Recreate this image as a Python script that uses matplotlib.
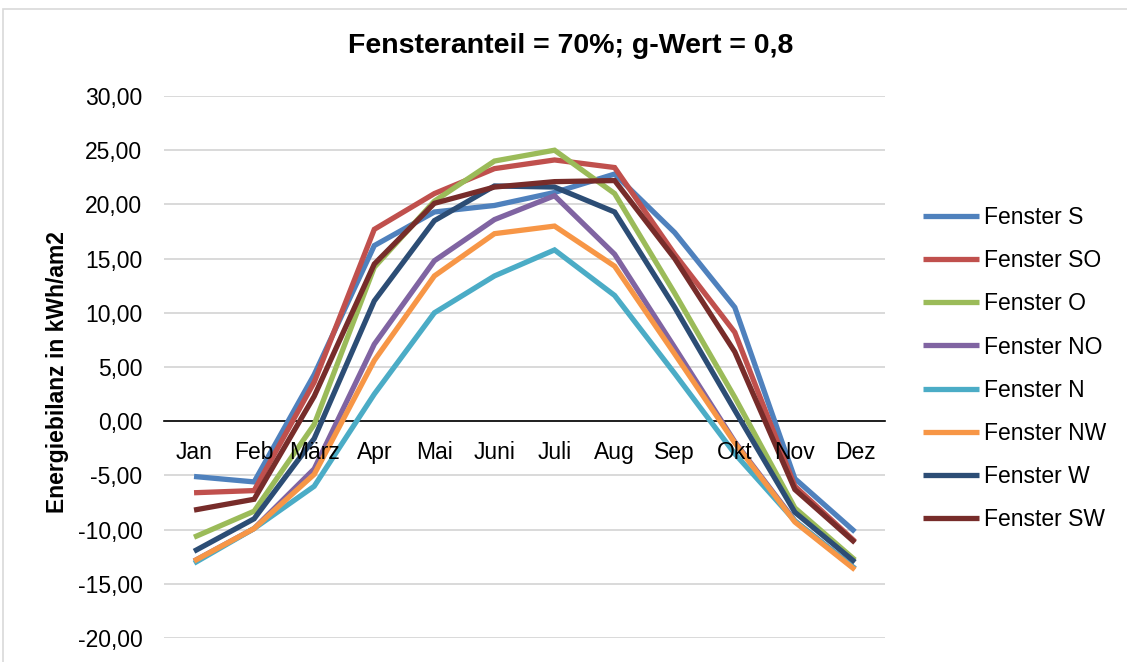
import matplotlib.pyplot as plt
from matplotlib.patches import Rectangle

# ====== Daten ======
MONATE = ["Jan", "Feb", "März", "Apr", "Mai", "Juni", "Juli", "Aug", "Sep", "Okt", "Nov", "Dez"]

fenster_s = [-5.1, -5.6, 4.3, 16.2, 19.3, 19.9, 21.1, 22.8, 17.4, 10.5, -5.3, -10.2]
fenster_so = [-6.6, -6.4, 3.6, 17.7, 21.0, 23.3, 24.1, 23.4, 15.4, 8.2, -6.0, -11.1]
fenster_o = [-10.7, -8.3, -0.3, 14.2, 20.3, 24.0, 25.0, 21.0, 11.8, 2.2, -8.0, -12.8]
fenster_no = [-12.9, -9.9, -4.4, 7.1, 14.8, 18.6, 20.8, 15.4, 6.8, -1.9, -9.2, -13.6]
fenster_n = [-13.1, -9.9, -6.0, 2.5, 10.0, 13.4, 15.8, 11.6, 4.4, -3.0, -9.2, -13.6]
fenster_nw = [-12.9, -9.9, -4.9, 5.6, 13.4, 17.3, 18.0, 14.3, 6.2, -2.0, -9.3, -13.7]
fenster_w = [-12.0, -9.0, -1.6, 11.1, 18.5, 21.7, 21.6, 19.3, 10.5, 1.0, -8.4, -13.0]
fenster_sw = [-8.2, -7.2, 2.3, 14.5, 20.1, 21.6, 22.1, 22.2, 15.0, 6.4, -6.3, -11.2]

SERIEN = [
    ("Fenster S", fenster_s, "#4F81BD"),
    ("Fenster SO", fenster_so, "#C0504D"),
    ("Fenster O", fenster_o, "#9BBB59"),
    ("Fenster NO", fenster_no, "#8064A2"),
    ("Fenster N", fenster_n, "#4BACC6"),
    ("Fenster NW", fenster_nw, "#F79646"),
    ("Fenster W", fenster_w, "#2C4D75"),
    ("Fenster SW", fenster_sw, "#772C2A"),
]

Y_TICKS = [-20, -15, -10, -5, 0, 5, 10, 15, 20, 25, 30]
# ===================

W, H = 1127, 662
plt.rcParams["font.family"] = ["Liberation Sans", "DejaVu Sans"]

fig = plt.figure(figsize=(W / 100, H / 100), dpi=100)
fig.patches.append(Rectangle((3 / W, -0.1), 1.2, 1 - 9 / H + 0.1, transform=fig.transFigure,
                             fill=False, edgecolor="#D9D9D9", linewidth=1.2))

ax = fig.add_axes([164 / W, 1 - 638 / H, (885 - 164) / W, (638 - 96) / H])

x = list(range(len(MONATE)))
for name, werte, farbe in SERIEN:
    ax.plot(x, werte, color=farbe, linewidth=3.8, label=name, solid_joinstyle="miter",
            solid_capstyle="butt", zorder=3)

ax.set_xlim(-0.5, len(MONATE) - 0.5)
ax.set_ylim(-20, 30)
ax.set_yticks(Y_TICKS)
ax.set_yticklabels([f"{v:.2f}".replace(".", ",") for v in Y_TICKS], fontsize=16.5)
ax.yaxis.grid(True, color="#D9D9D9", linewidth=1.4)
ax.set_axisbelow(True)

for s in ["top", "right", "left"]:
    ax.spines[s].set_visible(False)
ax.spines["bottom"].set_position(("data", 0))
ax.spines["bottom"].set_color("black")
ax.spines["bottom"].set_linewidth(1.2)
ax.spines["bottom"].set_zorder(2)

ax.set_xticks(x)
ax.set_xticklabels(MONATE, fontsize=16.5)
ax.tick_params(axis="x", length=0, pad=14)
ax.tick_params(axis="y", length=0, pad=15.5)
# Monatsnamen über den Linien
ax.xaxis.set_zorder(4)

fig.text(571 / W, 1 - 46 / H, "Fensteranteil = 70%; g-Wert = 0,8", fontsize=20.5,
         fontweight="bold", ha="center", va="center")
fig.text(58 / W, 1 - 372 / H, "Energiebilanz in kWh/am2", fontsize=16.5,
         fontweight="bold", rotation=90, ha="center", va="center")

ax.legend(loc="upper left", bbox_to_anchor=(923 / W, 1 - 206 / H), bbox_transform=fig.transFigure,
          frameon=False, fontsize=16.5, handlelength=2.45, handletextpad=0.2,
          labelspacing=0.88, borderpad=0, borderaxespad=0)

fig.savefig("out.png", dpi=100)
